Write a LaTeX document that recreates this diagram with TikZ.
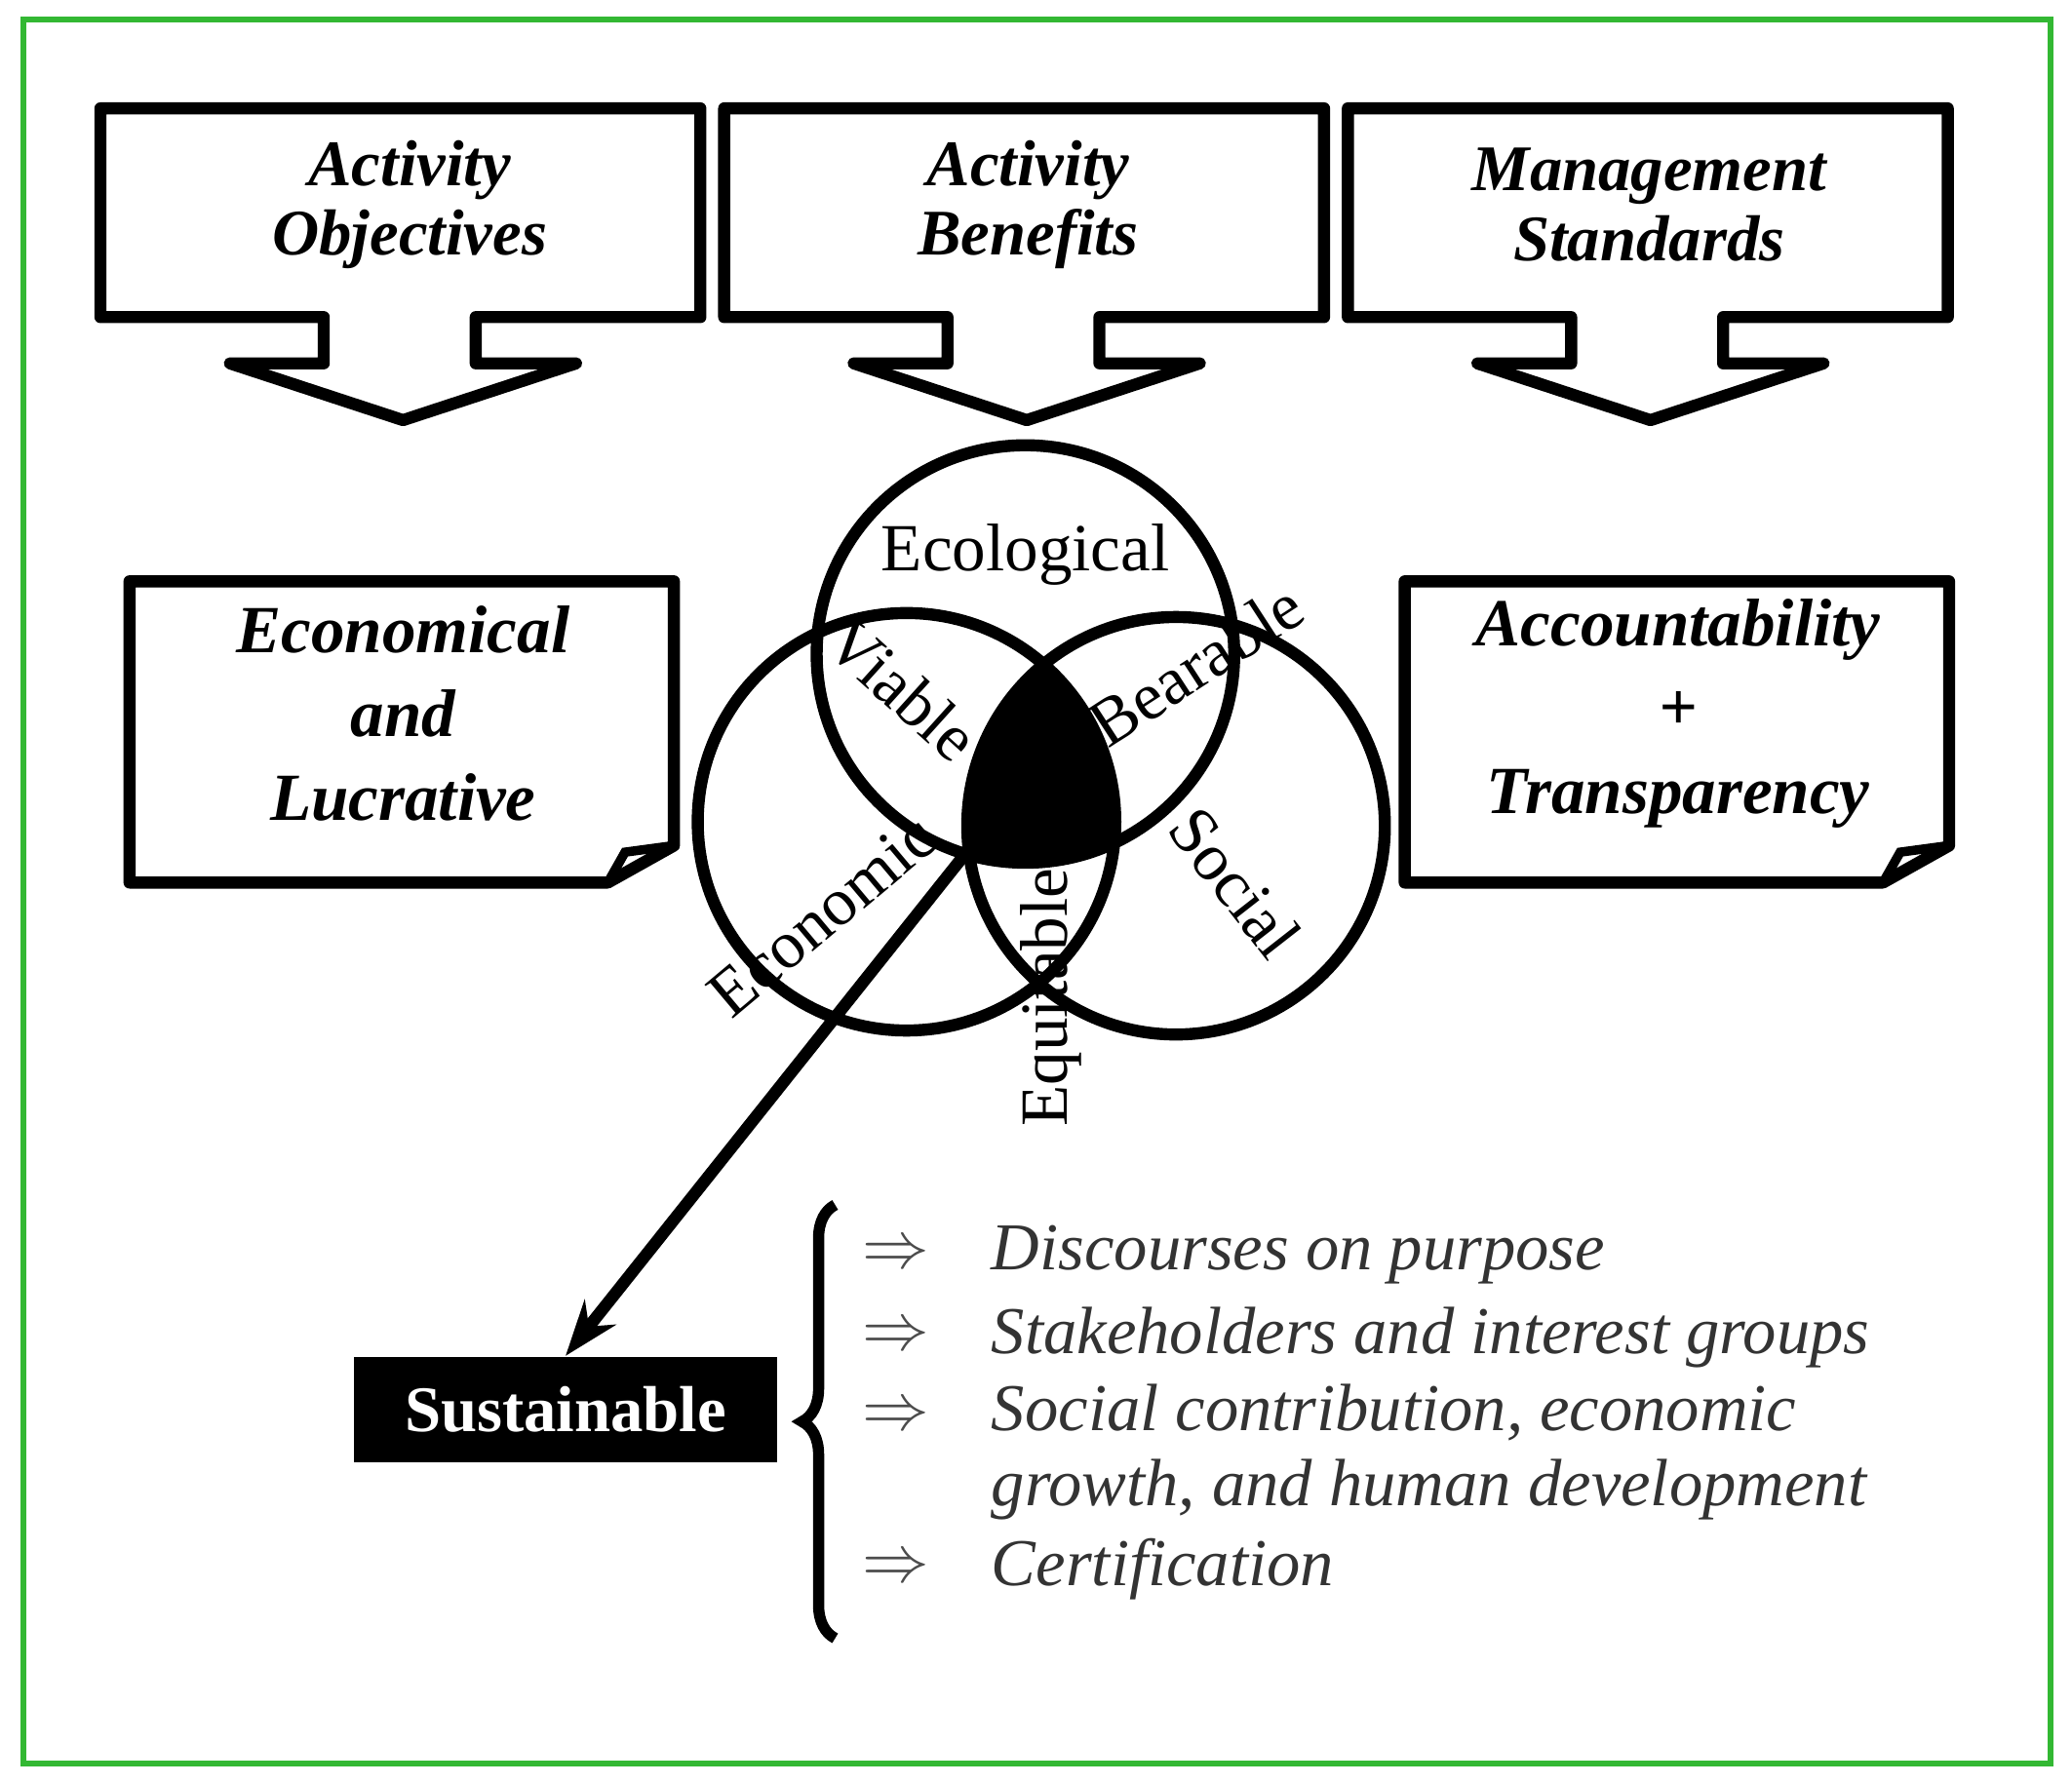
\documentclass[tikz,border=0pt]{standalone}
\usepackage{fontspec}
\setmainfont{Liberation Serif}
\usetikzlibrary{decorations.pathreplacing,arrows.meta}
\begin{document}
\begin{tikzpicture}[x=0.01cm,y=-0.01cm,
  ln/.style={line width=2.6pt,line join=round},
  ttl/.style={font=\fontsize{14}{15}\selectfont\bfseries\itshape,align=center},
  circ/.style={line width=2.6pt},
  vl/.style={font=\fontsize{14.5}{17}\selectfont},
  item/.style={font=\fontsize{14.4}{16}\selectfont\itshape,text=black!80,anchor=west,align=left},
  arr/.style={font=\fontsize{14}{16}\selectfont,text=black!70}]
\useasboundingbox (0,0) rectangle (1568,1350);
\draw[green!65!black!80,line width=1.3pt] (18,15) rectangle (1552,1335);
% callouts
\foreach \a/\s in {76/0,548/1,1020/2}{
  \draw[ln] (\a,82) -- (\a+454,82) -- (\a+454,240) -- (\a+284,240) -- (\a+284,275) -- (\a+360,275)
    -- (\a+229,318) -- (\a+98,275) -- (\a+169,275) -- (\a+169,240) -- (\a,240) -- cycle;}
\node[ttl] (t1) at (310,155) {Activity\\Objectives};
\node[ttl] (t2) at (778,155) {Activity\\Benefits};
\node[ttl] (t3) at (1248,155) {Management\\Standards};
% document boxes
\foreach \a in {98,1063}{
  \draw[ln] (\a,440) -- (\a+412,440) -- (\a+412,640) -- (\a+362,668) -- (\a,668) -- cycle;
  \draw[line width=2pt] (\a+412,640) -- (\a+375,645) -- (\a+362,668);}
\node[ttl,font=\fontsize{14.5}{18}\selectfont\bfseries\itshape] (d1) at (305,540) {Economical\\and\\Lucrative};
\node[ttl,font=\fontsize{14.5}{18}\selectfont\bfseries\itshape] (d2) at (1270,540) {Accountability\\+\\Transparency};
% venn
\begin{scope}
\clip (776,495) circle (158);
\clip (686,622) circle (158);
\fill (890,625) circle (158);
\end{scope}
\draw[circ] (776,495) circle (158);
\draw[circ] (686,622) circle (158);
\draw[circ] (890,625) circle (158);
\node[vl] (eco) at (776,420) {Ecological};
\node[vl,rotate=-42] (via) at (683,522) {Viable};
\node[vl,rotate=33] (bea) at (905,503) {Bearable};
\node[vl,rotate=40] (ecn) at (622,693) {Economic};
\node[vl,rotate=-52] (soc) at (935,668) {Social};
\node[vl,rotate=90] (equ) at (795,755) {Equitable};
\coordinate (ctr) at (745,628);
% sustainable
\node[fill=black,text=white,font=\fontsize{14}{16}\selectfont\bfseries,minimum width=3.2cm,minimum height=0.8cm] (sus) at (428,1067) {Sustainable};
\draw[line width=2.6pt,-{Stealth[length=0.42cm,width=0.3cm]}] (ctr) -- (sus.north);
% brace
\draw[line width=2.4pt,decorate,decoration={brace,amplitude=0.25cm,mirror}] (632,912) -- (632,1240);
\foreach \y in {950,1012,1073,1188}{\node[arr] at (678,\y) {$\Rightarrow$};}
\node[item] (i1) at (738,950) {Discourses on purpose};
\node[item] (i2) at (738,1012) {Stakeholders and interest groups};
\node[item] (i3) at (738,1099) {Social contribution, economic\\growth, and human development};
\node[item] (i4) at (738,1188) {Certification};
\end{tikzpicture}
\end{document}
